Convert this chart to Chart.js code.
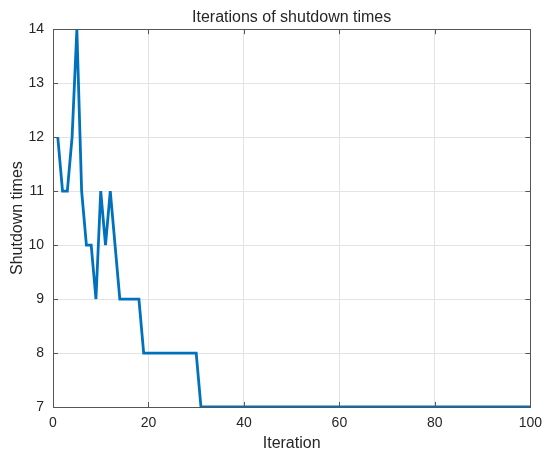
<!DOCTYPE html>
<html>
<head>
<meta charset="utf-8">
<script src="https://cdn.jsdelivr.net/npm/chart.js@4/dist/chart.umd.min.js"></script>
<style>
  html, body { margin: 0; padding: 0; background: #fff; }
  #wrap { width: 550px; height: 458px; position: relative; }
</style>
</head>
<body>
<div id="wrap"><canvas id="chart"></canvas></div>
<script>
// shutdown times per iteration (iteration = index + 1)
const shutdownTimes = [
  12, 11, 11, 12, 14, 11, 10, 10, 9, 11,
  10, 11, 10, 9, 9, 9, 9, 9, 8, 8,
  8, 8, 8, 8, 8, 8, 8, 8, 8, 8,
  7, 7, 7, 7, 7, 7, 7, 7, 7, 7,
  7, 7, 7, 7, 7, 7, 7, 7, 7, 7,
  7, 7, 7, 7, 7, 7, 7, 7, 7, 7,
  7, 7, 7, 7, 7, 7, 7, 7, 7, 7,
  7, 7, 7, 7, 7, 7, 7, 7, 7, 7,
  7, 7, 7, 7, 7, 7, 7, 7, 7, 7,
  7, 7, 7, 7, 7, 7, 7, 7, 7, 7
]
const xTicks = [0, 20, 40, 60, 80, 100]
const yTicks = [7, 8, 9, 10, 11, 12, 13, 14]

const points = shutdownTimes.map((v, i) => ({ x: i + 1, y: v }))

const FONT = '"Liberation Sans", Arial, Helvetica, sans-serif'
const TEXT = "#262626"
const AXIS = "#555555"
const GRID = "#e3e3e3"

// box around the axes + inward tick marks, matlab style
const boxPlugin = {
  id: "matlabBox",
  beforeDatasetsDraw(chart) {
    const { ctx, chartArea: a, scales } = chart
    const tl = 5
    ctx.save()
    ctx.strokeStyle = AXIS
    ctx.lineWidth = 1
    ctx.beginPath()
    xTicks.forEach(t => {
      const px = Math.round(scales.x.getPixelForValue(t)) + 0.5
      ctx.moveTo(px, a.bottom); ctx.lineTo(px, a.bottom - tl)
      ctx.moveTo(px, a.top); ctx.lineTo(px, a.top + tl)
    })
    yTicks.forEach(t => {
      const py = Math.round(scales.y.getPixelForValue(t)) + 0.5
      ctx.moveTo(a.left, py); ctx.lineTo(a.left + tl, py)
      ctx.moveTo(a.right, py); ctx.lineTo(a.right - tl, py)
    })
    ctx.stroke()
    ctx.strokeRect(Math.round(a.left) + 0.5, Math.round(a.top) + 0.5,
      Math.round(a.right - a.left), Math.round(a.bottom - a.top))
    ctx.restore()
  }
}

new Chart(document.getElementById("chart"), {
  type: "line",
  data: {
    datasets: [{
      data: points,
      borderColor: "#0072BD",
      borderWidth: 2.8,
      pointRadius: 0,
      tension: 0,
      fill: false
    }]
  },
  options: {
    responsive: true,
    maintainAspectRatio: false,
    animation: false,
    layout: { padding: { left: 0, right: 18, top: 0, bottom: 0 } },
    plugins: {
      legend: { display: false },
      tooltip: { enabled: false },
      title: {
        display: true,
        text: "Iterations of shutdown times",
        color: TEXT,
        fullSize: false,
        font: { family: FONT, size: 16, weight: "normal" },
        padding: { top: 8, bottom: 2 }
      }
    },
    scales: {
      x: {
        type: "linear",
        min: 0,
        max: 100,
        afterFit: s => { s.height = 51 },
        afterBuildTicks: s => { s.ticks = xTicks.map(v => ({ value: v })) },
        grid: { color: GRID, drawTicks: false },
        border: { display: false },
        ticks: { color: TEXT, padding: 8, maxRotation: 0, font: { family: FONT, size: 14 } },
        title: {
          display: true,
          text: "Iteration",
          color: TEXT,
          font: { family: FONT, size: 16 },
          padding: { top: 0, bottom: 5 }
        }
      },
      y: {
        min: 7,
        max: 14,
        afterFit: s => { s.width = 53 },
        afterBuildTicks: s => { s.ticks = yTicks.map(v => ({ value: v })) },
        grid: { color: GRID, drawTicks: false },
        border: { display: false },
        ticks: { color: TEXT, padding: 9, font: { family: FONT, size: 14 } },
        title: {
          display: true,
          text: "Shutdown times",
          color: TEXT,
          font: { family: FONT, size: 16 },
          padding: { top: 8, bottom: 0 }
        }
      }
    }
  },
  plugins: [boxPlugin]
})
</script>
</body>
</html>
